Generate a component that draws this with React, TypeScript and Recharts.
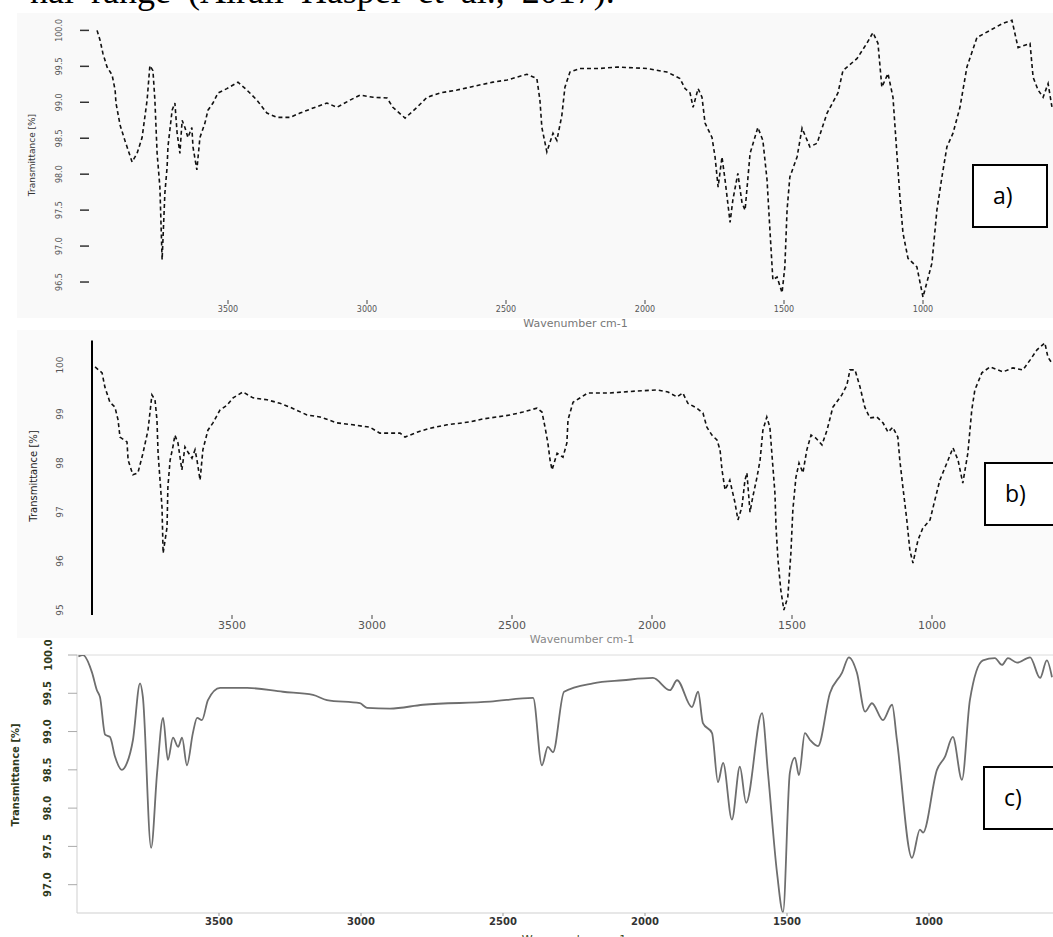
import React from "react";
import { LineChart, Line, XAxis, YAxis, ReferenceLine } from "recharts";

// wavenumber (cm-1), transmittance (%)
const spectrumA: [number, number][] = [
  [3971, 100.0], [3960, 99.86], [3950, 99.68], [3935, 99.49], [3917, 99.38], [3906, 99.17],
  [3903, 98.99], [3888, 98.68], [3871, 98.47], [3845, 98.17], [3827, 98.29], [3809, 98.51],
  [3791, 99.03], [3781, 99.51], [3770, 99.44], [3763, 99.03], [3755, 98.29], [3745, 97.82],
  [3737, 96.81], [3727, 97.74], [3719, 98.1], [3716, 98.38], [3701, 98.89], [3691, 98.99],
  [3683, 98.57], [3673, 98.29], [3665, 98.75], [3655, 98.65], [3644, 98.51], [3630, 98.65],
  [3626, 98.38], [3612, 98.06], [3601, 98.51], [3583, 98.71], [3572, 98.89], [3554, 98.99],
  [3536, 99.13], [3504, 99.19], [3464, 99.28], [3432, 99.17], [3396, 99.03], [3360, 98.85],
  [3324, 98.79], [3277, 98.79], [3241, 98.85], [3194, 98.92], [3144, 98.99], [3108, 98.93],
  [3061, 99.03], [3025, 99.1], [2978, 99.07], [2928, 99.06], [2907, 98.93], [2863, 98.78],
  [2820, 98.93], [2784, 99.07], [2737, 99.13], [2676, 99.17], [2619, 99.22], [2547, 99.28],
  [2496, 99.31], [2425, 99.39], [2389, 99.33], [2378, 99.03], [2371, 98.65], [2353, 98.31],
  [2331, 98.57], [2317, 98.47], [2299, 98.82], [2288, 99.21], [2270, 99.42], [2234, 99.47],
  [2162, 99.47], [2101, 99.49], [1993, 99.47], [1921, 99.42], [1899, 99.38], [1874, 99.33],
  [1856, 99.19], [1838, 99.13], [1827, 98.93], [1809, 99.19], [1795, 99.07], [1784, 98.71],
  [1759, 98.51], [1748, 98.24], [1737, 97.82], [1723, 98.24], [1712, 97.92], [1694, 97.33],
  [1684, 97.64], [1666, 98.01], [1651, 97.6], [1640, 97.5], [1622, 98.29], [1594, 98.65],
  [1576, 98.47], [1561, 97.92], [1550, 97.18], [1540, 96.53], [1525, 96.57], [1507, 96.35],
  [1497, 96.71], [1489, 97.5], [1479, 97.96], [1453, 98.24], [1435, 98.64], [1407, 98.38],
  [1381, 98.43], [1345, 98.85], [1306, 99.13], [1288, 99.44], [1237, 99.61], [1202, 99.82],
  [1180, 99.97], [1162, 99.82], [1148, 99.21], [1126, 99.4], [1108, 99.07], [1094, 98.29],
  [1083, 97.68], [1072, 97.18], [1054, 96.83], [1022, 96.71], [1000, 96.29], [968, 96.76],
  [950, 97.5], [932, 97.96], [914, 98.38], [892, 98.57], [867, 98.93], [842, 99.49],
  [806, 99.9], [759, 100.0], [712, 100.1], [680, 100.14], [658, 99.76], [615, 99.82],
  [604, 99.35], [586, 99.17], [568, 99.07], [550, 99.26], [536, 98.93],
];

const spectrumB: [number, number][] = [
  [3989, 99.96], [3964, 99.84], [3954, 99.55], [3936, 99.24], [3918, 99.14], [3907, 98.88],
  [3900, 98.53], [3875, 98.43], [3871, 98.06], [3854, 97.76], [3836, 97.8], [3818, 98.2],
  [3800, 98.67], [3786, 99.39], [3775, 99.29], [3768, 98.88], [3764, 98.2], [3750, 97.1],
  [3746, 96.16], [3732, 96.69], [3729, 97.51], [3721, 98.06], [3711, 98.33], [3704, 98.57],
  [3693, 98.41], [3679, 97.86], [3668, 98.33], [3657, 98.22], [3643, 98.1], [3632, 98.27],
  [3625, 98.06], [3614, 97.65], [3604, 98.27], [3586, 98.67], [3568, 98.82], [3543, 99.08],
  [3518, 99.18], [3496, 99.33], [3461, 99.45], [3425, 99.33], [3375, 99.29], [3329, 99.22],
  [3293, 99.14], [3232, 98.98], [3186, 98.94], [3125, 98.82], [3068, 98.78], [3007, 98.73],
  [2972, 98.61], [2900, 98.61], [2882, 98.53], [2839, 98.63], [2793, 98.71], [2732, 98.78],
  [2650, 98.84], [2604, 98.9], [2554, 98.94], [2507, 98.98], [2461, 99.04], [2411, 99.12],
  [2393, 99.04], [2382, 98.73], [2372, 98.41], [2364, 98.06], [2357, 97.86], [2339, 98.2],
  [2318, 98.12], [2304, 98.41], [2300, 98.88], [2282, 99.24], [2229, 99.43], [2150, 99.43],
  [2054, 99.47], [1982, 99.49], [1943, 99.45], [1911, 99.35], [1890, 99.43], [1872, 99.22],
  [1840, 99.12], [1818, 99.02], [1804, 98.73], [1786, 98.57], [1768, 98.47], [1757, 98.27],
  [1750, 97.86], [1739, 97.45], [1722, 97.65], [1704, 97.2], [1693, 96.84], [1679, 97.1],
  [1668, 97.65], [1661, 97.8], [1650, 97.0], [1640, 97.31], [1625, 97.71], [1614, 98.06],
  [1604, 98.67], [1590, 98.94], [1579, 98.73], [1572, 98.2], [1561, 97.39], [1557, 96.69],
  [1550, 96.02], [1540, 95.41], [1529, 95.0], [1515, 95.27], [1504, 96.16], [1497, 97.04],
  [1486, 97.71], [1475, 98.0], [1461, 97.8], [1447, 98.27], [1432, 98.57], [1415, 98.51],
  [1393, 98.37], [1375, 98.67], [1354, 99.14], [1322, 99.39], [1304, 99.59], [1293, 99.9],
  [1275, 99.9], [1257, 99.55], [1240, 99.14], [1222, 98.92], [1197, 98.94], [1175, 98.82],
  [1157, 98.63], [1140, 98.73], [1122, 98.53], [1115, 98.06], [1104, 97.51], [1090, 96.84],
  [1079, 96.22], [1068, 95.96], [1050, 96.43], [1033, 96.67], [1007, 96.84], [990, 97.24],
  [972, 97.65], [947, 98.0], [925, 98.31], [907, 98.06], [890, 97.59], [872, 98.2],
  [858, 99.08], [847, 99.49], [822, 99.84], [793, 99.96], [747, 99.86], [711, 99.94],
  [675, 99.9], [650, 100.1], [625, 100.31], [597, 100.45], [586, 100.16], [572, 100.04],
];

const spectrumC: [number, number][] = [
  [3995, 99.98], [3979, 100.0], [3947, 99.77], [3930, 99.54], [3919, 99.45], [3901, 98.96],
  [3884, 98.93], [3866, 98.67], [3842, 98.5], [3824, 98.59], [3803, 98.89], [3778, 99.63],
  [3768, 99.45], [3739, 97.48], [3718, 98.46], [3697, 99.18], [3680, 98.63], [3662, 98.92],
  [3644, 98.8], [3630, 98.92], [3613, 98.56], [3592, 98.98], [3577, 99.18], [3560, 99.15],
  [3539, 99.41], [3496, 99.57], [3401, 99.57], [3275, 99.52], [3169, 99.48], [3120, 99.41],
  [3004, 99.37], [2979, 99.31], [2898, 99.3], [2782, 99.35], [2546, 99.39], [2394, 99.44],
  [2363, 98.56], [2342, 98.8], [2324, 98.73], [2285, 99.52], [2183, 99.63], [2078, 99.67],
  [1972, 99.7], [1912, 99.54], [1887, 99.67], [1835, 99.32], [1813, 99.52], [1796, 99.11],
  [1764, 98.98], [1743, 98.34], [1725, 98.59], [1694, 97.85], [1666, 98.54], [1644, 98.07],
  [1588, 99.24], [1567, 98.46], [1535, 97.15], [1514, 96.64], [1490, 98.46], [1472, 98.66],
  [1458, 98.43], [1437, 98.98], [1419, 98.89], [1391, 98.81], [1349, 99.5], [1306, 99.77],
  [1282, 99.97], [1254, 99.77], [1225, 99.26], [1201, 99.37], [1162, 99.15], [1130, 99.35],
  [1113, 98.89], [1060, 97.35], [1032, 97.72], [1021, 97.68], [972, 98.5], [944, 98.67],
  [916, 98.93], [884, 98.37], [856, 99.41], [810, 99.93], [768, 99.96], [743, 99.87],
  [722, 99.96], [690, 99.9], [644, 99.97], [609, 99.7], [585, 99.93], [567, 99.71],
];

const xTicks = [3500, 3000, 2500, 2000, 1500, 1000];
const yTicksA = [100, 99.5, 99, 98.5, 98, 97.5, 97, 96.5];
const yTicksB = [100, 99, 98, 97, 96, 95];
const yTicksC = [100, 99.5, 99, 98.5, 98, 97.5, 97];

const toRows = (s: [number, number][]) => s.map(([wn, t]) => ({ wn, t }));

const rotTick =
  (cx: number, fmt: (v: number) => string, style: any) => (props: any) => {
    const { y, payload } = props;
    return (
      <text
        x={cx}
        y={y}
        transform={`rotate(-90 ${cx} ${y})`}
        textAnchor="middle"
        dominantBaseline="central"
        {...style}
      >
        {fmt(payload.value)}
      </text>
    );
  };

function VTitle({ x, y, text, style }: { x: number; y: number; text: string; style?: React.CSSProperties }) {
  return (
    <div
      style={{
        position: "absolute",
        left: x,
        top: y,
        transform: "translate(-50%, -50%) rotate(-90deg)",
        whiteSpace: "nowrap",
        fontFamily: "DejaVu Sans, sans-serif",
        ...style,
      }}
    >
      {text}
    </div>
  );
}

function LabelBox({ left, top, text }: { left: number; top: number; text: string }) {
  return (
    <div
      style={{
        position: "absolute",
        left,
        top,
        width: 76,
        height: 64,
        boxSizing: "border-box",
        border: "2px solid #000",
        background: "#fff",
        fontFamily: "Open Sans, sans-serif",
        fontSize: 23,
        lineHeight: "58px",
        paddingLeft: 19,
        color: "#000",
      }}
    >
      {text}
    </div>
  );
}

export default function App() {
  const sans = "DejaVu Sans, sans-serif";
  return (
    <div
      style={{
        position: "absolute",
        left: 0,
        top: 0,
        width: 1053,
        height: 937,
        overflow: "hidden",
        background: "#fff",
      }}
    >
      <div
        style={{
          position: "absolute",
          left: 30,
          top: -27,
          fontFamily: "Liberation Serif, serif",
          fontSize: 36,
          lineHeight: "36px",
          wordSpacing: 8,
          whiteSpace: "nowrap",
          color: "#000",
        }}
      >
        nal range (Alrali Haspel et al., 2017).
      </div>
      <div style={{ position: "absolute", left: 17, top: 13, width: 1036, height: 305, background: "#f9f9f9" }} />
      <div style={{ position: "absolute", left: 17, top: 330, width: 1036, height: 308, background: "#fafafa" }} />

      {/* a) */}
      <div style={{ position: "absolute", left: 0, top: 0 }}>
        <LineChart width={1062} height={336} data={toRows(spectrumA)} margin={{ top: 16, right: 0, bottom: 8, left: 0 }}>
          <XAxis
            type="number"
            dataKey="wn"
            domain={[500, 4000]}
            reversed
            ticks={xTicks}
            allowDataOverflow
            height={28}
            axisLine={false}
            tickSize={4}
            tickLine={{ stroke: "#444" }}
            tick={{ fill: "#555", fontSize: 8, fontFamily: sans }}
            label={{ value: "Wavenumber cm-1", position: "insideBottom", offset: 1, fill: "#777", fontSize: 11, fontFamily: sans }}
          />
          <YAxis
            type="number"
            domain={[96.25, 100.2]}
            ticks={yTicksA}
            allowDataOverflow
            width={89}
            axisLine={false}
            tickSize={9}
            tickLine={{ stroke: "#333", strokeWidth: 1.5 }}
            tick={rotTick(60, (v) => v.toFixed(1), { fill: "#555", fontSize: 8, fontFamily: sans })}
          />
          <Line
            type="linear"
            dataKey="t"
            stroke="#111"
            strokeWidth={1.6}
            strokeDasharray="4 3"
            dot={false}
            isAnimationActive={false}
          />
        </LineChart>
      </div>
      <VTitle x={32} y={155} text="Transmittance [%]" style={{ fontSize: 9, color: "#333" }} />
      <LabelBox left={972} top={164} text="a)" />

      {/* b) */}
      <div style={{ position: "absolute", left: 0, top: 322 }}>
        <LineChart width={1072} height={331} data={toRows(spectrumB)} margin={{ top: 18.5, right: 0, bottom: 8, left: 0 }}>
          <XAxis
            type="number"
            dataKey="wn"
            domain={[500, 4000]}
            reversed
            ticks={xTicks}
            allowDataOverflow
            height={30}
            axisLine={false}
            tickSize={4}
            tickLine={{ stroke: "#444" }}
            tick={{ fill: "#555", fontSize: 11, fontFamily: sans }}
            label={{ value: "Wavenumber cm-1", position: "insideBottom", offset: 2, fill: "#888", fontSize: 11, fontFamily: sans }}
          />
          <YAxis
            type="number"
            domain={[94.9, 100.5]}
            ticks={yTicksB}
            allowDataOverflow
            width={92}
            axisLine={{ stroke: "#000", strokeWidth: 2 }}
            tickLine={false}
            tick={rotTick(60, (v) => String(v), { fill: "#555", fontSize: 9, fontFamily: sans })}
          />
          <Line
            type="linear"
            dataKey="t"
            stroke="#111"
            strokeWidth={1.6}
            strokeDasharray="4 3"
            dot={false}
            isAnimationActive={false}
          />
        </LineChart>
      </div>
      <VTitle x={33} y={476} text="Transmittance [%]" style={{ fontSize: 10, color: "#222" }} />
      <LabelBox left={984} top={462} text="b)" />

      {/* c) */}
      <div style={{ position: "absolute", left: 0, top: 640 }}>
        <LineChart width={1071} height={303} data={toRows(spectrumC)} margin={{ top: 15, right: 0, bottom: 0, left: 0 }}>
          <XAxis
            type="number"
            dataKey="wn"
            domain={[500, 4000]}
            reversed
            ticks={xTicks}
            allowDataOverflow
            height={30}
            axisLine={{ stroke: "#cfcfcf" }}
            tickSize={3}
            tickLine={{ stroke: "#999" }}
            tick={{ fill: "#333", fontSize: 10, fontWeight: "bold", fontFamily: sans }}
            label={{ value: "Wavenumber cm-1", position: "insideBottom", offset: 0, fill: "#3a4a20", fontSize: 11, fontFamily: sans }}
          />
          <YAxis
            type="number"
            domain={[96.63, 100]}
            ticks={yTicksC}
            allowDataOverflow
            width={77}
            axisLine={{ stroke: "#cfcfcf" }}
            tickSize={9}
            tickLine={{ stroke: "#aaa" }}
            tick={rotTick(48, (v) => v.toFixed(1), { fill: "#2f3a1c", fontSize: 10, fontWeight: "bold", fontFamily: sans })}
          />
          <ReferenceLine y={100} stroke="#dcdcdc" />
          <Line
            type="monotone"
            dataKey="t"
            stroke="#6e6e6e"
            strokeWidth={1.8}
            dot={false}
            isAnimationActive={false}
          />
        </LineChart>
      </div>
      <VTitle x={15} y={775} text="Transmittance [%]" style={{ fontSize: 10, fontWeight: "bold", color: "#2f3a1c" }} />
      <LabelBox left={983} top={766} text="c)" />
    </div>
  );
}
